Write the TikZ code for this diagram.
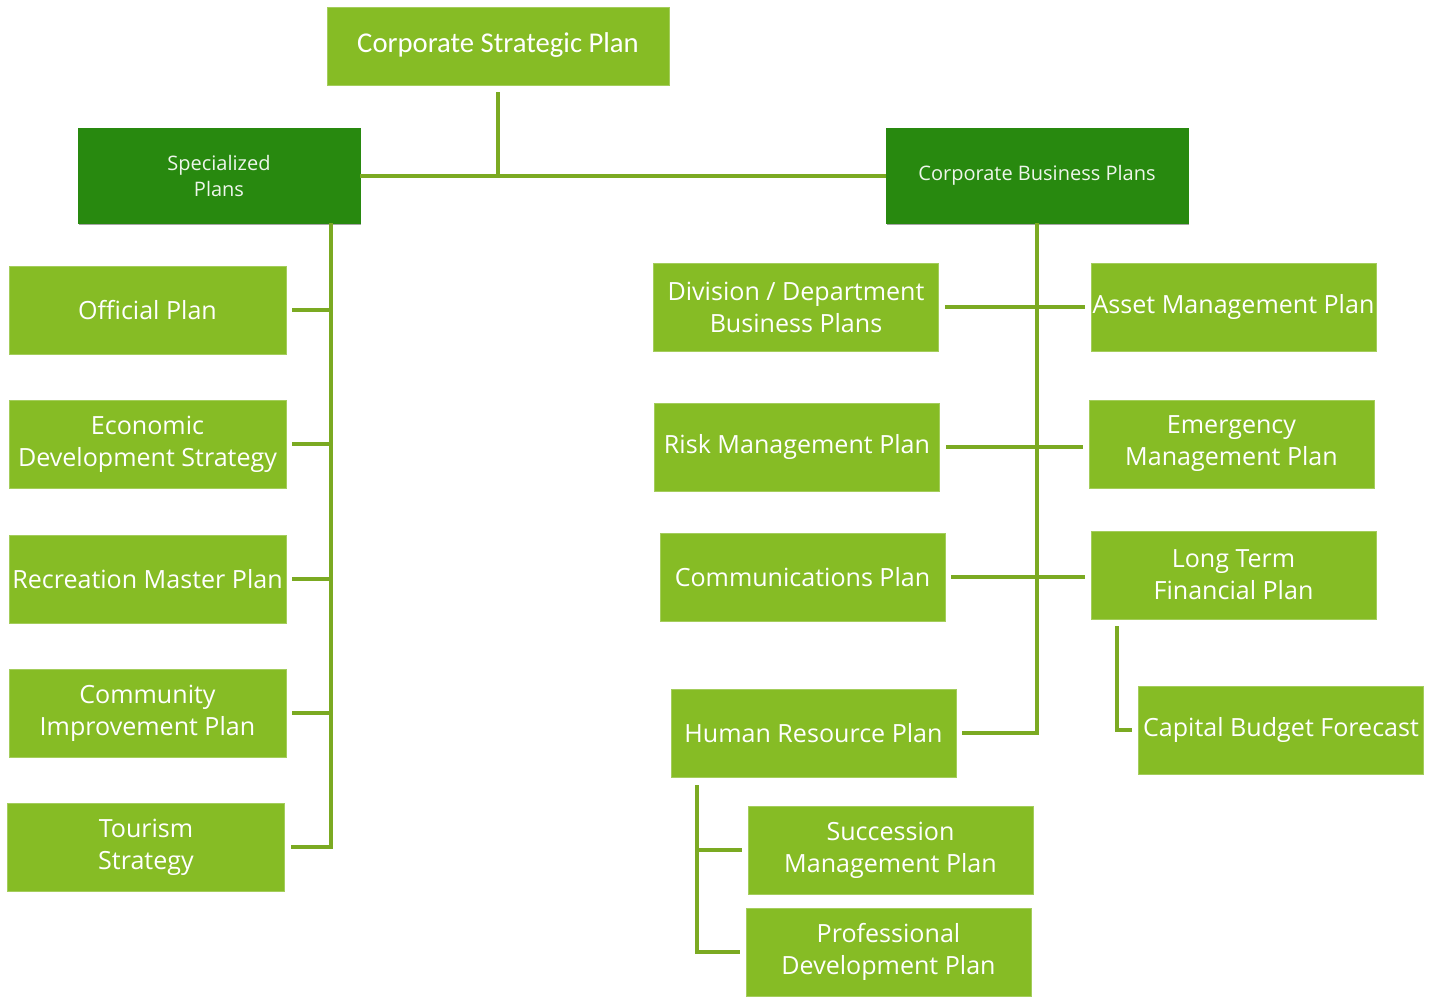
\documentclass[tikz,border=0pt]{standalone}
\usepackage{fontspec}
\setmainfont{Open Sans}
\newfontfamily\titlefont{Carlito}
\usetikzlibrary{positioning, calc, shadows}
\definecolor{leafgreen}{HTML}{86BC25}
\definecolor{darkgreen}{HTML}{28890F}
\definecolor{linegreen}{HTML}{7BAA22}
\tikzset{
	planbox/.style={shape=rectangle, fill=leafgreen, draw=leafgreen!75!white,
		line width=0.5pt, text=white, align=center, inner sep=0pt,
		minimum width=213.75pt, minimum height=66pt,
		font=\fontsize{18.8}{24}\selectfont}
}
\tikzset{
	headbox/.style={shape=rectangle, fill=darkgreen, draw=darkgreen,
		text=white!92!darkgreen, align=center, inner sep=0pt,
		minimum height=71.25pt, font=\fontsize{15}{19.5}\selectfont,
		drop shadow={shadow xshift=0.6pt, shadow yshift=-1.5pt, opacity=0.35, fill=black}}
}
\tikzset{
	conn/.style={draw=linegreen, line width=3pt}
}

\begin{document}
\begin{tikzpicture}[x=0.75pt, y=-0.75pt]
      \useasboundingbox (0,0) rectangle (1441,997);

      \node[planbox, minimum width=256.5pt, minimum height=58.5pt,
        font=\titlefont\fontsize{21.5}{25}\selectfont] (csp) at (498,46) {Corporate Strategic Plan\vphantom{\strut}};
      \node[headbox, minimum width=211.5pt] (spec) at (219,175.5) {Specialized\\Plans};
      \node[headbox, minimum width=226.5pt] (cbp) at (1037,175.5) {Corporate Business Plans};

      \draw[conn] (csp.south) ++(0,7) -- (csp.south |- spec.east);
      \draw[conn] (spec.east) -- (cbp.west);

      % specialized plans
      \node[planbox, minimum width=207.75pt] (off) at (147.5,310) {Official Plan};
      \node[planbox, minimum width=207.75pt] (eco) at (147.5,444) {Economic\\Development Strategy};
      \node[planbox, minimum width=207.75pt] (rec) at (147.5,579) {Recreation Master Plan};
      \node[planbox, minimum width=207.75pt] (com) at (147.5,713) {Community\\Improvement Plan};
      \node[planbox, minimum width=207.75pt] (tour) at (146,847) {Tourism\\Strategy};

      \coordinate (ltrunk) at (331,223);
      \draw[conn, shorten >=4.5pt] (ltrunk) |- (tour.east);
      \foreach \n in {off,eco,rec,com}
        \draw[conn, shorten <=4.5pt] (\n.east) -- (\n.east -| ltrunk);

      % corporate business plans
      \node[planbox] (div) at (796,307) {Division / Department\\Business Plans};
      \node[planbox] (risk) at (797,447) {Risk Management Plan};
      \node[planbox] (comm) at (802.5,577) {Communications Plan};
      \node[planbox] (hr) at (813.5,733) {Human Resource Plan};

      \node[planbox] (asset) at (1233.5,307) {Asset Management Plan};
      \node[planbox] (emg) at (1231.5,444) {Emergency\\Management Plan};
      \node[planbox] (lt) at (1233.5,575) {Long Term\\Financial Plan};
      \node[planbox] (cap) at (1281,730) {Capital Budget Forecast};

      \node[planbox] (succ) at (890.5,850) {Succession\\Management Plan};
      \node[planbox] (prof) at (888.5,952) {Professional\\Development Plan};

      \draw[conn, shorten >=4.5pt] (cbp.south) |- (hr.east);
      \draw[conn, shorten <=4.5pt, shorten >=4.5pt] (div.east) -- (asset.west);
      \draw[conn, shorten <=4.5pt, shorten >=4.5pt] (risk.east) -- (risk.east -| emg.west);
      \draw[conn, shorten <=4.5pt, shorten >=4.5pt] (comm.east) -- (comm.east -| lt.west);

      \draw[conn, shorten >=4.5pt] ($(lt.south west)+(26,7)$) |- (cap.west);
      \draw[conn, shorten >=4.5pt] ($(hr.south west)+(26,8)$) |- (prof.west);
      \draw[conn, shorten >=4.5pt] ($(hr.south west)+(26,8)$) |- (succ.west);
    \end{tikzpicture}
\end{document}
